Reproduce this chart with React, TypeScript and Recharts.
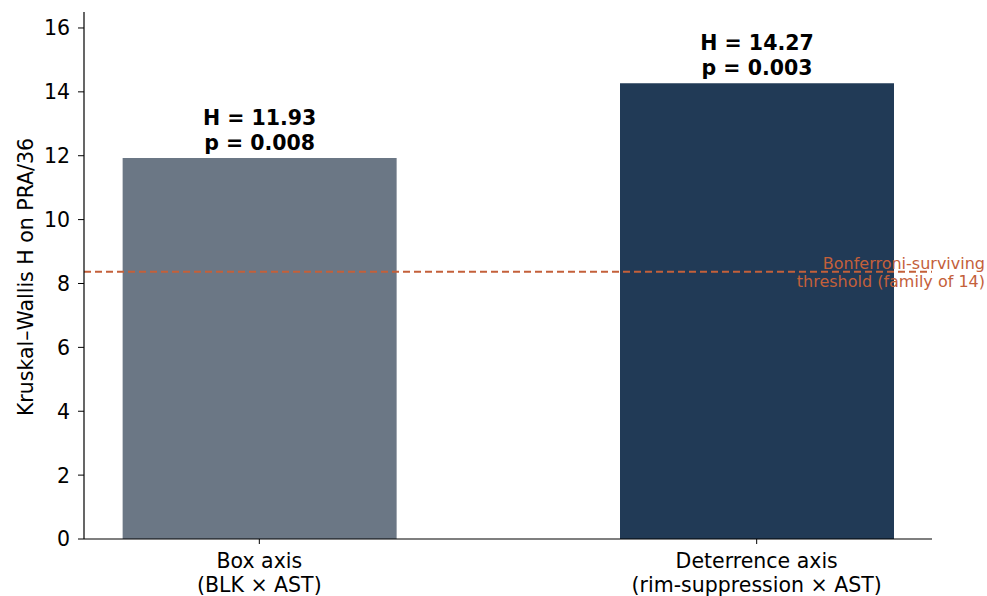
import React from "react";
import {
  BarChart,
  Bar,
  Cell,
  XAxis,
  YAxis,
  ReferenceLine,
  LabelList,
} from "recharts";

const CATEGORY_LINE1 = ["Box axis", "Deterrence axis"];
const CATEGORY_LINE2 = ["(BLK × AST)", "(rim-suppression × AST)"];
const H_VALUES = [11.93, 14.27];
const P_VALUES = ["0.008", "0.003"];
const BAR_COLORS = ["#6b7785", "#213a56"];
const Y_TICKS = [0, 2, 4, 6, 8, 10, 12, 14, 16];
const THRESHOLD = 8.37;

const data = H_VALUES.map((h, i) => ({ pos: i, h, p: P_VALUES[i] }));

const FONT = "'DejaVu Sans', sans-serif";
const FS = 20.5;

const XTick = (props: any) => {
  const { x, y, payload } = props;
  const i = payload.value as number;
  return (
    <text textAnchor="middle" fontSize={FS} fontFamily={FONT} fill="#000">
      <tspan x={x} y={y + 22}>{CATEGORY_LINE1[i]}</tspan>
      <tspan x={x} y={y + 46}>{CATEGORY_LINE2[i]}</tspan>
    </text>
  );
};

const YTick = (props: any) => {
  const { x, y, payload } = props;
  return (
    <text
      x={x - 6}
      y={y}
      dy="0.36em"
      textAnchor="end"
      fontSize={FS}
      fontFamily={FONT}
      fill="#000"
    >
      {payload.value}
    </text>
  );
};

const BarTopLabel = (props: any) => {
  const { x, y, width, index } = props;
  const cx = x + width / 2;
  return (
    <text
      textAnchor="middle"
      fontSize={FS}
      fontWeight="bold"
      fontFamily={FONT}
      fill="#000"
    >
      <tspan x={cx} y={y - 33}>{`H = ${H_VALUES[index].toFixed(2)}`}</tspan>
      <tspan x={cx} y={y - 8}>{`p = ${P_VALUES[index]}`}</tspan>
    </text>
  );
};

const ThresholdLabel = (props: any) => {
  const { viewBox } = props;
  const y = viewBox.y;
  return (
    <text textAnchor="end" fontSize={16} fontFamily={FONT} fill="#c4603a">
      <tspan x={985} y={y - 3}>Bonferroni-surviving</tspan>
      <tspan x={985} y={y + 15}>threshold (family of 14)</tspan>
    </text>
  );
};

export default function App() {
  return (
    <div style={{ position: "absolute", left: 0, top: 0, background: "#fff" }}>
      <BarChart
        width={987}
        height={596}
        data={data}
        margin={{ top: 12, right: 55, bottom: 0, left: 0 }}
      >
        <XAxis
          dataKey="pos"
          type="number"
          domain={[-0.3525, 1.3525]}
          ticks={[0, 1]}
          tick={<XTick />}
          tickLine={{ stroke: "#000" }}
          tickSize={5}
          axisLine={{ stroke: "#000", strokeWidth: 1.2 }}
          height={57}
          interval={0}
          allowDataOverflow
        />
        <YAxis
          type="number"
          domain={[0, 16.5]}
          ticks={Y_TICKS}
          width={84}
          tickSize={6}
          tickLine={{ stroke: "#000" }}
          axisLine={{ stroke: "#000", strokeWidth: 1.2 }}
          tick={<YTick />}
          allowDataOverflow
        />
        <Bar dataKey="h" barSize={274} isAnimationActive={false}>
          {data.map((_, i) => (
            <Cell key={i} fill={BAR_COLORS[i]} />
          ))}
          <LabelList dataKey="h" content={<BarTopLabel />} />
        </Bar>
        <ReferenceLine
          y={THRESHOLD}
          stroke="#c4603a"
          strokeWidth={2}
          strokeDasharray="7 4"
          label={<ThresholdLabel />}
        />
        <text
          x={33}
          y={277}
          transform="rotate(-90 33 277)"
          textAnchor="middle"
          fontSize={FS}
          fontFamily={FONT}
          fill="#000"
        >
          Kruskal–Wallis H on PRA/36
        </text>
      </BarChart>
    </div>
  );
}
